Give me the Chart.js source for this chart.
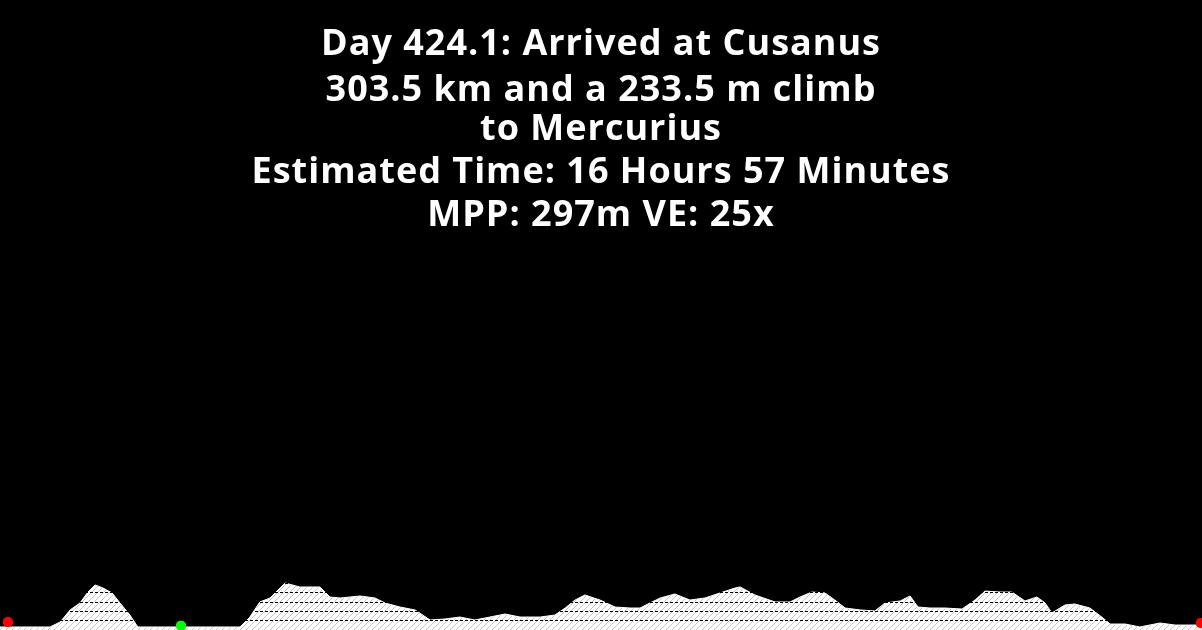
<!DOCTYPE html>
<html>
<head>
<meta charset="utf-8">
<script src="https://cdn.jsdelivr.net/npm/chart.js@4/dist/chart.umd.min.js"></script>
<style>
  html, body { margin: 0; padding: 0; background: #000; }
  #wrap { width: 1202px; height: 630px; position: relative; }
</style>
</head>
<body>
<div id="wrap"><canvas id="profile"></canvas></div>
<script>
// route profile: distance (km) and elevation (m)
const distanceKm = [0, 12.6, 15.2, 17.7, 20.2, 22.2, 24.0, 26.0, 28.3, 30.3, 32.8, 34.8, 58.1, 60.6, 63.1, 65.6,
  68.2, 70.7, 72.0, 75.7, 80.8, 83.3, 85.9, 90.9, 94.7, 97.2, 101.0, 104.8, 108.6, 112.4, 116.1, 119.9,
  123.7, 127.5, 131.3, 136.4, 140.1, 142.7, 145.2, 147.7, 151.5, 155.3, 159.1, 161.6, 164.1, 166.7, 170.4,
  174.2, 178.0, 181.8, 185.6, 186.9, 190.6, 195.7, 199.5, 202.0, 205.0, 208.3, 210.8, 213.4, 217.2, 220.9,
  223.5, 227.3, 229.8, 231.8, 234.8, 238.6, 242.9, 246.2, 248.7, 252.5, 255.5, 258.8, 261.8, 263.9, 265.6,
  268.9, 271.4, 275.2, 278.5, 280.3, 284.1, 287.8, 292.9, 296.7, 303.5];
const elevationM = [36, 36, 95, 238, 321, 451, 535, 499, 440, 321, 178, 36, 36, 36, 154, 333,
  380, 499, 558, 511, 511, 392, 380, 404, 380, 321, 273, 238, 119, 131, 154, 119,
  154, 190, 154, 154, 178, 261, 356, 416, 356, 273, 261, 261, 321, 380, 428,
  356, 380, 440, 499, 511, 416, 333, 333, 392, 451, 440, 356, 261, 238, 226,
  321, 345, 404, 273, 261, 261, 249, 356, 463, 451, 451, 345, 392, 321, 202,
  297, 309, 261, 143, 71, 71, 36, 83, 59, 59];

// start, current position, end
const markerKm = [2, 45.7, 303.2];
const markerM = [95, 51, 83];
const markerColors = ['#ff0000', '#00ff00', '#ff0000'];

const titleLines = [
  'Day 424.1: Arrived at Cusanus',
  '303.5 km and a 233.5 m climb',
  'to Mercurius',
  'Estimated Time: 16 Hours 57 Minutes',
  'MPP: 297m VE: 25x'
];

function hatch() {
  const c = document.createElement('canvas');
  c.width = 6; c.height = 6;
  const g = c.getContext('2d');
  g.fillStyle = '#ffffff';
  g.fillRect(0, 0, 6, 6);
  g.strokeStyle = '#c4c4c4';
  g.lineWidth = 1;
  g.beginPath();
  g.moveTo(0, 6); g.lineTo(6, 0);
  g.moveTo(-1, 1); g.lineTo(1, -1);
  g.moveTo(5, 7); g.lineTo(7, 5);
  g.stroke();
  return g.createPattern(c, 'repeat');
}

// title text drawn over the full-size chart area,
// markers redrawn on top of the dashed grid lines
const overlay = {
  id: 'overlay',
  afterDraw(chart) {
    const ctx = chart.ctx;
    const area = chart.chartArea;
    ctx.save();
    ctx.beginPath();
    ctx.rect(area.left, area.top, area.right - area.left, area.bottom - area.top);
    ctx.clip();
    chart.getDatasetMeta(0).controller.draw();
    ctx.restore();

    const baselines = [55, 101, 140, 183, 226];
    ctx.save();
    ctx.fillStyle = '#ffffff';
    ctx.font = 'bold 36px "Open Sans"';
    ctx.letterSpacing = '1px';
    ctx.textAlign = 'center';
    ctx.textBaseline = 'alphabetic';
    titleLines.forEach((t, i) => ctx.fillText(t, chart.width / 2, baselines[i]));
    ctx.restore();
  }
};

const profile = distanceKm.map((d, i) => ({ x: d, y: elevationM[i] }));
const markers = markerKm.map((d, i) => ({ x: d, y: markerM[i] }));

new Chart(document.getElementById('profile'), {
  type: 'line',
  data: {
    datasets: [
      {
        data: markers,
        showLine: false,
        pointRadius: 5,
        pointHoverRadius: 5,
        pointBorderWidth: 0,
        pointBackgroundColor: markerColors,
        order: 0
      },
      {
        data: profile,
        fill: 'origin',
        backgroundColor: hatch(),
        borderColor: '#ffffff',
        borderWidth: 1,
        pointRadius: 0,
        tension: 0,
        order: 1
      }
    ]
  },
  options: {
    responsive: true,
    maintainAspectRatio: false,
    animation: false,
    layout: { padding: 0, autoPadding: false },
    plugins: {
      legend: { display: false },
      tooltip: { enabled: false },
      title: { display: false }
    },
    scales: {
      x: {
        type: 'linear',
        min: 0,
        max: 303.5,
        display: false
      },
      y: {
        type: 'linear',
        min: 0,
        max: 7484,
        ticks: { display: false, stepSize: 110 },
        grid: {
          z: 1,
          color: '#000000',
          lineWidth: 1,
          drawTicks: false
        },
        border: { display: false, dash: [3, 2] }
      }
    }
  },
  plugins: [overlay]
});
</script>
</body>
</html>
